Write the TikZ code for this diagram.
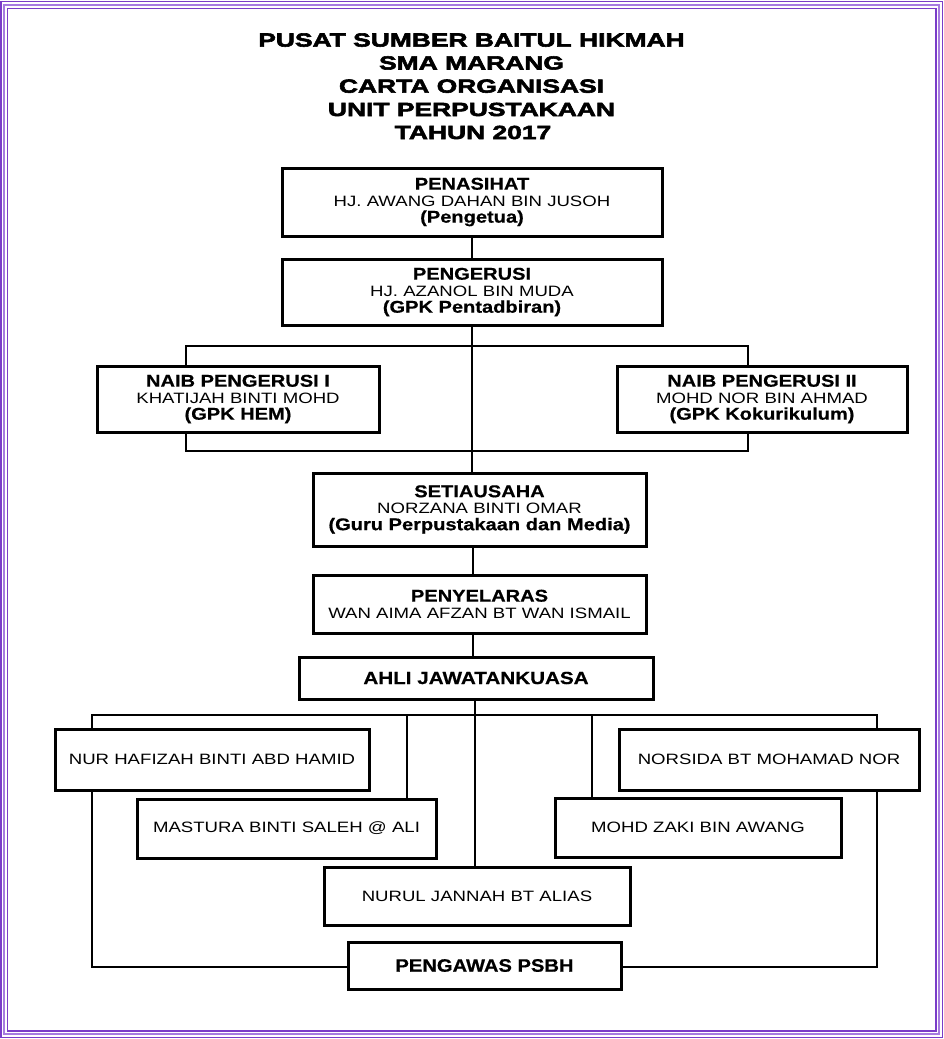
\documentclass[tikz,border=0pt]{standalone}
\usepackage{fontspec}
\newfontfamily\titlef[FakeStretch=1.39,FakeBold=3]{Liberation Sans Bold}
\newfontfamily\boldf[FakeStretch=1.18,FakeBold=0.6]{Liberation Sans Bold}
\newfontfamily\namef[FakeStretch=1.24]{Liberation Sans}
\newfontfamily\plainb[FakeBold=0.6,FakeStretch=1.12]{Liberation Sans Bold}
\definecolor{bdark}{HTML}{7A3CC8}
\definecolor{blight}{HTML}{A67BE0}
\newcommand{\btx}[1]{{\boldf\fontsize{17}{16.5}\selectfont #1}}
\newcommand{\ntx}[1]{{\namef\fontsize{15}{16.5}\selectfont #1}}
\tikzset{
  box/.style={draw=black, line width=3pt, fill=white, inner sep=0pt, outer sep=0pt,
    align=center, font=\fontsize{16}{16.5}\selectfont},
  link/.style={draw=black, line width=2pt},
  ttl/.style={anchor=base, inner sep=0pt, font=\titlef\fontsize{19}{22}\selectfont},
  frameout/.style={draw=bdark, line width=1.8pt},
  framemid/.style={draw=blight, line width=1.4pt},
}
\begin{document}
\begin{tikzpicture}[x=1pt,y=-1pt]
\useasboundingbox (0,0) rectangle (944,1039);
\fill[white] (0,0) rectangle (944,1039);
% frame
\draw[frameout] (1,1.5) rectangle (942.5,1037.5);
\draw[framemid] (4,5) rectangle (939,1034);
\draw[frameout] (7.5,8.5) rectangle (936,1031);
% title
\node[ttl] (t1) at (471.5,46.6) {PUSAT SUMBER BAITUL HIKMAH};
\node[ttl] (t2) at (471.5,69.5) {SMA MARANG};
\node[ttl] (t3) at (471.5,92.7) {CARTA ORGANISASI};
\node[ttl] (t4) at (471.5,116) {UNIT PERPUSTAKAAN};
\node[ttl] (t5) at (473,139) {TAHUN 2017};
% boxes
\node[box, minimum width=380pt, minimum height=68pt] (pen) at (472,202)
  {\btx{PENASIHAT}\\\ntx{HJ. AWANG DAHAN BIN JUSOH}\\\btx{(Pengetua)}};
\node[box, minimum width=380pt, minimum height=66pt] (peng) at (472,292)
  {\btx{PENGERUSI}\\\ntx{HJ. AZANOL BIN MUDA}\\\btx{(GPK Pentadbiran)}};
\node[box, minimum width=282pt, minimum height=66pt] (naib1) at (238,399)
  {\btx{NAIB PENGERUSI I}\\\ntx{KHATIJAH BINTI MOHD}\\\btx{(GPK HEM)}};
\node[box, minimum width=290pt, minimum height=66pt] (naib2) at (762,399)
  {\btx{NAIB PENGERUSI II}\\\ntx{MOHD NOR BIN AHMAD}\\\btx{(GPK Kokurikulum)}};
\node[box, minimum width=333pt, minimum height=73pt] (set) at (479.5,509.5)
  {\btx{SETIAUSAHA}\\\ntx{NORZANA BINTI OMAR}\\\btx{(Guru Perpustakaan dan Media)}};
\node[box, minimum width=333pt, minimum height=58pt] (peny) at (479.5,604)
  {\btx{PENYELARAS}\\\ntx{WAN AIMA AFZAN BT WAN ISMAIL}};
\node[box, minimum width=354pt, minimum height=42pt] (ahli) at (476,678)
  {{\boldf\fontsize{17.5}{17.5}\selectfont AHLI JAWATANKUASA}};
\node[box, minimum width=314pt, minimum height=61pt] (nur) at (212,759.5)
  {\ntx{NUR HAFIZAH BINTI ABD HAMID}};
\node[box, minimum width=299pt, minimum height=59pt] (mas) at (286.5,828.5)
  {\ntx{MASTURA BINTI SALEH @ ALI}};
\node[box, minimum width=306pt, minimum height=58pt] (nurul) at (477,896)
  {\ntx{NURUL JANNAH BT ALIAS}};
\node[box, minimum width=300pt, minimum height=61pt] (nors) at (769,759.5)
  {\ntx{NORSIDA BT MOHAMAD NOR}};
\node[box, minimum width=286pt, minimum height=59pt] (zaki) at (698,827.5)
  {\ntx{MOHD ZAKI BIN AWANG}};
\node[box, minimum width=273pt, minimum height=47pt] (pgw) at (484.5,965.5)
  {{\plainb\fontsize{18}{18}\selectfont PENGAWAS PSBH}};
% connectors
\coordinate (ul) at (186,346);
\coordinate (ur) at (748,346);
\coordinate (ll) at (186,451);
\coordinate (lr) at (748,451);
\coordinate (cx) at (473,0);
\coordinate (cx2) at (474.5,715);
\coordinate (bl) at (92,715);
\coordinate (br) at (877,715);
\coordinate (bm1) at (407,715);
\coordinate (bm2) at (592,715);
\coordinate (pl) at (92,967);
\coordinate (pr) at (877,967);
\draw[link] (pen) -- (peng);
\draw[link] (peng.south) -- (peng.south |- set.north);
\draw[link] (ul |- naib1.north) -- (ul) -- (ur) -- (ur |- naib2.north);
\draw[link] (ll |- naib1.south) -- (ll) -- (lr) -- (lr |- naib2.south);
\draw[link] (cx |- set.south) -- (cx |- peny.north);
\draw[link] (cx |- peny.south) -- (cx |- ahli.north);
\draw[link] (cx2 |- ahli.south) -- (cx2 |- nurul.north);
\draw[link] (bl |- nur.north) -- (bl) -- (br) -- (br |- nors.north);
\draw[link] (bm1) -- (bm1 |- mas.north);
\draw[link] (bm2) -- (bm2 |- zaki.north);
\draw[link] (bl |- nur.south) -- (pl) -- (pl -| pgw.west);
\draw[link] (br |- nors.south) -- (pr) -- (pr -| pgw.east);
\end{tikzpicture}
\end{document}
